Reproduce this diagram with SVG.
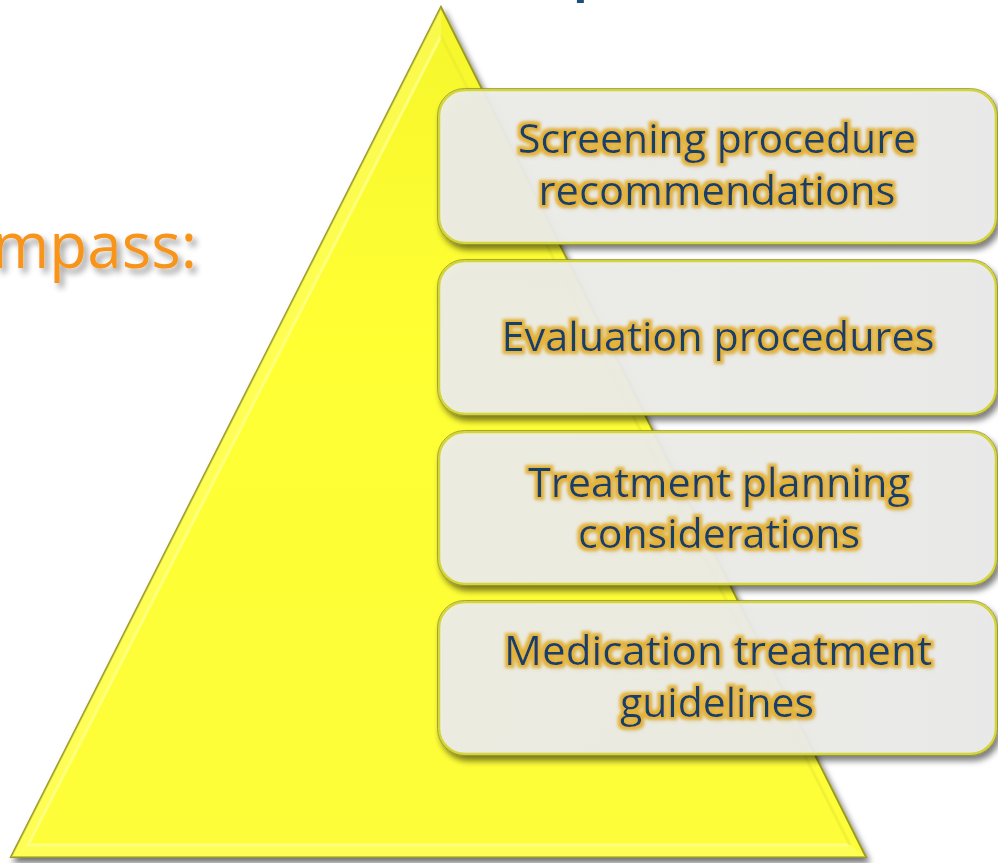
<svg xmlns="http://www.w3.org/2000/svg" width="998" height="863" viewBox="0 0 998 863">
<defs>
<linearGradient id="triG" x1="0" y1="0" x2="0" y2="1">
<stop offset="0" stop-color="#f6f62c"/>
<stop offset="0.4" stop-color="#ffff33"/>
<stop offset="1" stop-color="#fdfd3a"/>
</linearGradient>
<linearGradient id="boxG" x1="0" y1="0" x2="1" y2="0">
<stop offset="0" stop-color="#eeeeea"/>
<stop offset="0.75" stop-color="#ededea"/>
<stop offset="1" stop-color="#ebebeb"/>
</linearGradient>
<filter id="shadow" x="-10%" y="-10%" width="120%" height="130%">
<feGaussianBlur in="SourceAlpha" stdDeviation="3"/>
<feOffset dx="3" dy="5" result="b"/>
<feComponentTransfer><feFuncA type="linear" slope="0.55"/></feComponentTransfer>
<feMerge><feMergeNode/><feMergeNode in="SourceGraphic"/></feMerge>
</filter>
<filter id="glow" x="-10%" y="-30%" width="120%" height="160%">
<feMorphology in="SourceAlpha" operator="dilate" radius="3" result="d"/>
<feGaussianBlur in="d" stdDeviation="1.5" result="db"/>
<feFlood flood-color="#e3b238"/>
<feComposite in2="db" operator="in" result="g"/>
<feGaussianBlur in="SourceAlpha" stdDeviation="2.5" result="s0"/>
<feOffset in="s0" dx="2" dy="3" result="s1"/>
<feComponentTransfer in="s1" result="s"><feFuncA type="linear" slope="0.25"/></feComponentTransfer>
<feMerge><feMergeNode in="s"/><feMergeNode in="g"/><feMergeNode in="SourceGraphic"/></feMerge>
</filter>
<filter id="tshadow" x="-10%" y="-30%" width="130%" height="160%">
<feGaussianBlur in="SourceAlpha" stdDeviation="3"/>
<feOffset dx="4" dy="5"/>
<feComponentTransfer><feFuncA type="linear" slope="0.4"/></feComponentTransfer>
<feMerge><feMergeNode/><feMergeNode in="SourceGraphic"/></feMerge>
</filter>
<clipPath id="triClip"><polygon points="441,7 11,857 866,857"/></clipPath>
</defs>
<style>
.box{fill:url(#boxG);fill-opacity:0.93;stroke:#d4d43a;stroke-width:2.5}
.boxedge{fill:none;stroke:#8a8a30;stroke-width:1;stroke-opacity:0.7}
.lbl{font-family:"Open Sans","Noto Sans","Liberation Sans",sans-serif;font-size:41px;font-weight:500;fill:#133f68;text-anchor:middle;filter:url(#glow)}
</style>

<g id="title-fragment">
<text x="572" y="-11" font-family="Open Sans, sans-serif" font-size="60" font-weight="600" fill="#1f4e79">p</text>
</g>

<g id="subtitle">
<text x="197" y="268" text-anchor="end" textLength="205" lengthAdjust="spacingAndGlyphs" font-family="Open Sans, Noto Sans, sans-serif" font-size="64" font-weight="500" fill="#f7941a" filter="url(#tshadow)">mpass:</text>
</g>

<g id="pyramid" filter="url(#shadow)">
<polygon points="441,7 11,857 866,857" fill="url(#triG)" stroke="#9c9c22" stroke-width="2"/>
<g clip-path="url(#triClip)">
<polygon points="441,7 11,857 866,857 852,846 26,846 441,34" fill="#ffff80" fill-opacity="0.4"/>
<polyline points="441,36 28,845 850,845" fill="none" stroke="#ffff9a" stroke-width="3" stroke-opacity="0.7"/>
<polyline points="441,36 850,845" fill="none" stroke="#e8e830" stroke-width="3" stroke-opacity="0.5"/>
</g>
</g>

<g id="node-screening" filter="url(#shadow)">
<rect class="box" x="439" y="90" width="557" height="153" rx="26"/>
<rect class="boxedge" x="437.5" y="88.5" width="560" height="156" rx="27"/>
<text class="lbl" x="717" y="153" textLength="398" lengthAdjust="spacingAndGlyphs">Screening procedure</text>
<text class="lbl" x="717" y="205" textLength="357" lengthAdjust="spacingAndGlyphs">recommendations</text>
</g>

<g id="node-evaluation" filter="url(#shadow)">
<rect class="box" x="439" y="261" width="557" height="153" rx="26"/>
<rect class="boxedge" x="437.5" y="259.5" width="560" height="156" rx="27"/>
<text class="lbl" x="718" y="351" textLength="433" lengthAdjust="spacingAndGlyphs">Evaluation procedures</text>
</g>

<g id="node-treatment" filter="url(#shadow)">
<rect class="box" x="439" y="432" width="557" height="152" rx="26"/>
<rect class="boxedge" x="437.5" y="430.5" width="560" height="155" rx="27"/>
<text class="lbl" x="719" y="497" textLength="382" lengthAdjust="spacingAndGlyphs">Treatment planning</text>
<text class="lbl" x="719" y="548" textLength="282" lengthAdjust="spacingAndGlyphs">considerations</text>
</g>

<g id="node-medication" filter="url(#shadow)">
<rect class="box" x="439" y="602" width="557" height="152" rx="26"/>
<rect class="boxedge" x="437.5" y="600.5" width="560" height="155" rx="27"/>
<text class="lbl" x="718" y="665" textLength="428" lengthAdjust="spacingAndGlyphs">Medication treatment</text>
<text class="lbl" x="717" y="717" textLength="194" lengthAdjust="spacingAndGlyphs">guidelines</text>
</g>

<g id="connectors"></g>
</svg>
